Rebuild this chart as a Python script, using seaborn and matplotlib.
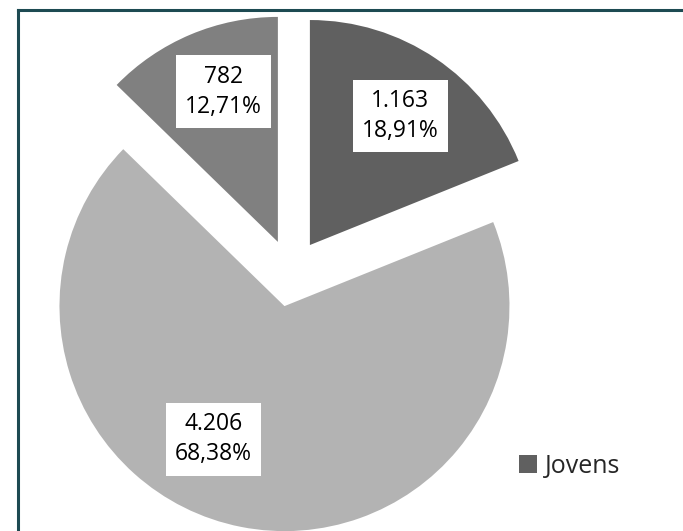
import numpy as np
import matplotlib
matplotlib.use("Agg")
import matplotlib.pyplot as plt
from matplotlib.lines import Line2D
from matplotlib.patches import Patch
import seaborn as sns

# ---- data ----
categories = ["Jovens", "Outros A", "Outros B"]
values = [1163, 4206, 782]
legend_labels = ["Jovens"]

# ---- style ----
sns.set_theme(style="white")
plt.rcParams['font.family'] = ['Open Sans', 'DejaVu Sans']
colors = ["#606060", "#b3b3b3", "#808080"]

W, H = 683, 531
fig = plt.figure(figsize=(W / 100, H / 100), dpi=100)
fig.patch.set_facecolor("white")

ax = fig.add_axes([0, 0, 1, 1])
total = sum(values)
wedges, _ = ax.pie(values, colors=colors, startangle=90, counterclock=False,
                   explode=[0.15, 0.15, 0.15], radius=1.0,
                   wedgeprops=dict(linewidth=0))

R_px = 225.0
cx, cy = 291.0, 273.0
ax.set_xlim(-cx / R_px, (W - cx) / R_px)
ax.set_ylim(-(H - cy) / R_px, cy / R_px)
ax.set_aspect("equal")
ax.axis("off")


def fmt_int(v):
    return f"{v:,}".replace(",", ".")


def fmt_pct(v):
    return f"{100 * v / total:.2f}".replace(".", ",") + "%"


# label placement (angle clockwise from top in degrees, distance in radii)
label_angles = [35, 208, -20]
label_dist = [0.70, 0.67, 0.71]
for w, v, a, d in zip(wedges, values, label_angles, label_dist):
    x0, y0 = w.center
    t = np.deg2rad(a)
    ax.text(x0 + d * np.sin(t), y0 + d * np.cos(t),
            f"{fmt_int(v)}\n{fmt_pct(v)}", ha="center", va="center",
            fontsize=16.5, color="black", linespacing=1.35,
            bbox=dict(boxstyle="square,pad=0.4", facecolor="white", edgecolor="none"))

handles = [Patch(facecolor=colors[0], edgecolor="none")]
fig.legend(handles, legend_labels, loc="center left",
           bbox_to_anchor=(519 / W, 1 - 466 / H), frameon=False,
           fontsize=18, handlelength=0.7, handleheight=0.7,
           handletextpad=0.35, borderpad=0, borderaxespad=0)

# frame border (partial, cropped)
bc = "#1d4a52"
fig.add_artist(Line2D([17.5 / W, 17.5 / W], [0, 1 - 10 / H],
                      transform=fig.transFigure, color=bc, linewidth=2.2,
                      solid_capstyle="projecting"))
fig.add_artist(Line2D([17.5 / W, 1], [1 - 10 / H, 1 - 10 / H],
                      transform=fig.transFigure, color=bc, linewidth=2.2,
                      solid_capstyle="projecting"))

fig.savefig("out.png", dpi=100, facecolor="white")
